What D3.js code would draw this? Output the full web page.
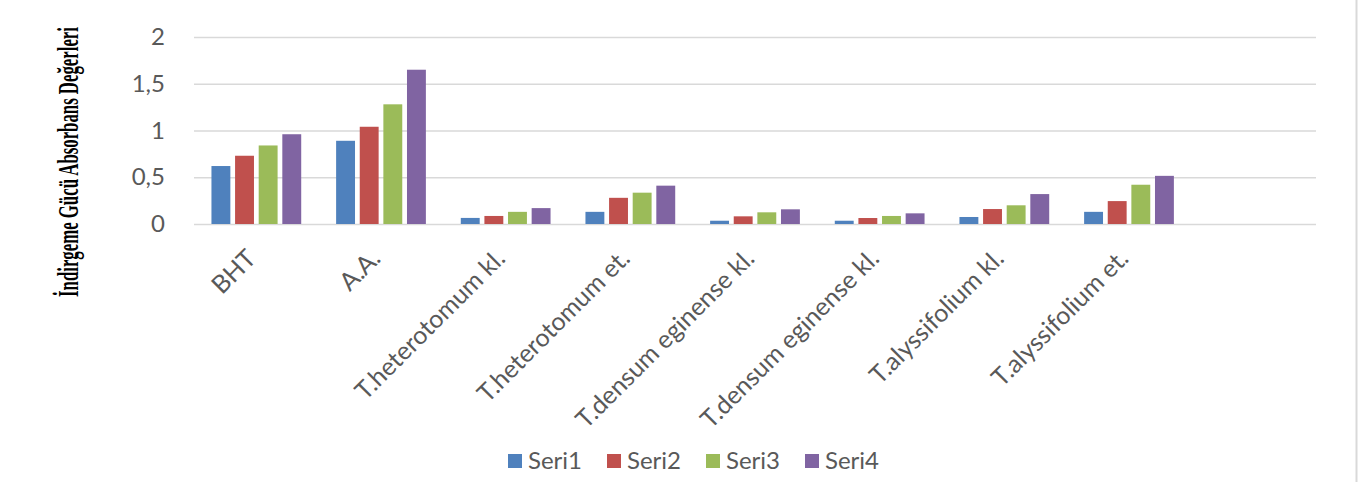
<!DOCTYPE html>
<html>
<head>
<meta charset="utf-8">
<script src="https://cdnjs.cloudflare.com/ajax/libs/d3/7.8.5/d3.min.js"></script>
<style>
  body { margin: 0; background: #fff; }
  svg { display: block; }
</style>
</head>
<body>
<div id="chart"></div>
<script>
var categories = ["BHT", "A.A.", "T.heterotomum kl.", "T.heterotomum et.",
  "T.densum eginense kl.", "T.densum eginense kl.", "T.alyssifolium kl.", "T.alyssifolium et.", ""];
var seriesNames = ["Seri1", "Seri2", "Seri3", "Seri4"];
var seri1 = [0.62, 0.89, 0.065, 0.13, 0.035, 0.035, 0.075, 0.13];
var seri2 = [0.73, 1.04, 0.086, 0.28, 0.082, 0.064, 0.16, 0.245];
var seri3 = [0.84, 1.28, 0.13, 0.335, 0.125, 0.086, 0.2, 0.42];
var seri4 = [0.96, 1.65, 0.17, 0.41, 0.157, 0.114, 0.32, 0.515];
var yTicks = [0, 0.5, 1, 1.5, 2];
var colors = ["#4F81BD", "#C0504D", "#9BBB59", "#8064A2"];

var svgWidth = 1360, svgHeight = 482;
var margin = { top: 37, right: 44, bottom: 258, left: 194 };
var width = svgWidth - margin.left - margin.right;
var height = svgHeight - margin.top - margin.bottom;
var labelFont = "Lato, 'Open Sans', sans-serif";

var svg = d3.select("#chart").append("svg")
  .attr("width", svgWidth)
  .attr("height", svgHeight);

// light frame line on the right
svg.append("line")
  .attr("x1", 1356.5).attr("x2", 1356.5)
  .attr("y1", 0).attr("y2", svgHeight)
  .attr("stroke", "#d9d9d9").attr("stroke-width", 2);

var chartGroup = svg.append("g")
  .attr("transform", `translate(${margin.left}, ${margin.top})`);

var xScale = d3.scaleBand()
  .domain(d3.range(categories.length))
  .range([0, width]);

var xInner = d3.scaleBand()
  .domain(d3.range(seriesNames.length))
  .range([0, xScale.bandwidth() * 0.72])
  .paddingInner(0.2);

var yScale = d3.scaleLinear()
  .domain([0, 2])
  .range([height, 0]);

// gridlines
chartGroup.append("g")
  .call(d3.axisLeft(yScale).tickValues(yTicks).tickSize(-width).tickFormat(""))
  .call(g => g.select(".domain").remove())
  .call(g => g.selectAll("line").attr("stroke", "#d9d9d9").attr("stroke-width", 1.5));

// y tick labels
chartGroup.append("g")
  .attr("transform", "translate(-26,0)")
  .call(d3.axisLeft(yScale).tickValues(yTicks).tickSize(0)
    .tickFormat(d => String(d).replace(".", ",")))
  .call(g => g.select(".domain").remove())
  .call(g => g.selectAll("text")
    .attr("font-family", labelFont)
    .attr("font-size", 24)
    .attr("fill", "#595959"));

var allSeries = [seri1, seri2, seri3, seri4];
var groupOffset = (xScale.bandwidth() - xScale.bandwidth() * 0.72) / 2;

allSeries.forEach(function(vals, s) {
  chartGroup.selectAll(".bar" + s)
    .data(vals)
    .enter()
    .append("rect")
    .attr("x", (d, i) => xScale(i) + groupOffset + xInner(s))
    .attr("y", d => yScale(d))
    .attr("width", xInner.bandwidth())
    .attr("height", d => height - yScale(d))
    .attr("fill", colors[s]);
});

// x labels, rotated
chartGroup.selectAll(".xlab")
  .data(categories.slice(0, 8))
  .enter()
  .append("text")
  .attr("transform", (d, i) => `translate(${xScale(i) + xScale.bandwidth() / 2 + 1}, ${height + 36}) rotate(-45)`)
  .attr("text-anchor", "end")
  .attr("font-family", labelFont)
  .attr("font-size", 25)
  .attr("fill", "#595959")
  .text(d => d);

// y axis title (condensed by scaling along the baseline)
var title = svg.append("text")
  .attr("text-anchor", "middle")
  .attr("font-family", "'Liberation Serif', serif")
  .attr("font-weight", 700)
  .attr("font-size", 29)
  .attr("fill", "#000")
  .text("İndirgeme Gücü Absorbans Değerleri");
var natural = title.node().getComputedTextLength();
title.attr("transform", `translate(78, 162) rotate(-90) scale(${270 / natural}, 1)`);

// legend
var legend = svg.append("g")
  .attr("transform", "translate(508, 461)");

var items = legend.selectAll("g")
  .data(seriesNames)
  .enter()
  .append("g")
  .attr("transform", (d, i) => `translate(${i * 99}, 0)`);

items.append("rect")
  .attr("x", 0).attr("y", -7)
  .attr("width", 14).attr("height", 14)
  .attr("fill", (d, i) => colors[i]);

items.append("text")
  .attr("x", 20).attr("y", 0)
  .attr("dy", "0.35em")
  .attr("font-family", labelFont)
  .attr("font-size", 24)
  .attr("fill", "#595959")
  .text(d => d);
</script>
</body>
</html>
